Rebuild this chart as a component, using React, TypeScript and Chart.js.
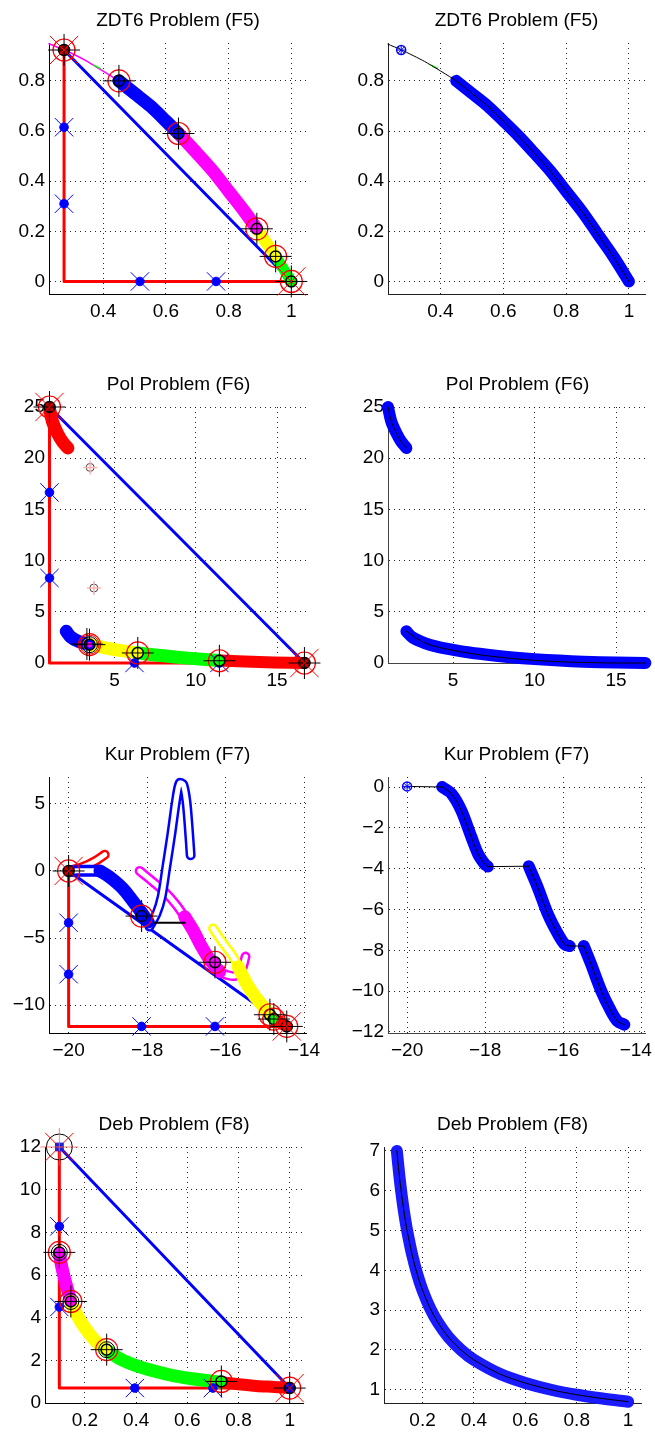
import React, { useEffect, useRef } from 'react';
import { Chart, registerables } from 'chart.js';

Chart.register(...registerables);

type XY = number[][];

const FONT = '"Liberation Sans", Arial, Helvetica, sans-serif';
const BLUE = '#0000ff';
const RED = '#ff0000';
const MAG = '#ff00ff';
const YEL = '#ffff00';
const GRN = '#00ff00';
const DARK = '#a00000';
const NONE = 'rgba(0,0,0,0)';

// ---------------- ZDT6 (F5) ----------------
const zdt6Ticks_x = [0.4, 0.6, 0.8, 1];
const zdt6Ticks_y = [0, 0.2, 0.4, 0.6, 0.8];
const zdt6L_redL = [[0.275, 0.923], [0.275, 0], [1.0, 0]];
const zdt6L_blueLine = [[0.275, 0.923], [1.0, 0]];
const zdt6L_thin = [[0.227, 0.948], [0.275, 0.924], [0.35, 0.877], [0.45, 0.8]];
const zdt6_greenDash = [[0.37, 0.863], [0.39, 0.85]];
const zdt6_frontBlue = [[0.45, 0.8], [0.5, 0.75], [0.55, 0.7], [0.6, 0.64], [0.64, 0.59]];
const zdt6_frontMag = [[0.64, 0.59], [0.7, 0.51], [0.75, 0.44], [0.8, 0.36], [0.85, 0.28], [0.89, 0.21]];
const zdt6_frontYel = [[0.89, 0.21], [0.92, 0.155], [0.95, 0.1]];
const zdt6_frontGrn = [[0.95, 0.1], [0.975, 0.05], [1.0, 0.0]];
const zdt6L_axisMarks = [[0.275, 0.615], [0.275, 0.31], [0.517, 0], [0.76, 0]];
const zdt6L_anchors = [[0.275, 0.923], [0.45, 0.8], [0.64, 0.59], [0.89, 0.21], [0.95, 0.1], [1.0, 0.0]];
const zdt6L_fills = [DARK, BLUE, BLUE, MAG, YEL, GRN];
const zdt6L_extremes = [[0.275, 0.923], [1.0, 0.0]];
const zdt6R_curve = [[0.233, 0.946], [0.275, 0.924], [0.35, 0.877], [0.45, 0.8], [0.5, 0.75], [0.55, 0.7], [0.6, 0.64], [0.65, 0.578], [0.7, 0.51], [0.75, 0.44], [0.8, 0.36], [0.85, 0.28], [0.9, 0.19], [0.95, 0.1], [1.0, 0.0]];
const zdt6R_band = [[0.45, 0.8], [0.5, 0.75], [0.55, 0.7], [0.6, 0.64], [0.65, 0.578], [0.7, 0.51], [0.75, 0.44], [0.8, 0.36], [0.85, 0.28], [0.9, 0.19], [0.95, 0.1], [1.0, 0.0]];
const zdt6R_single = [[0.275, 0.923]];

// ---------------- Pol (F6) ----------------
const polTicks_x = [5, 10, 15];
const polTicks_y = [0, 5, 10, 15, 20, 25];
const polL_redL = [[1, 25], [1, 0], [16.68, 0]];
const polL_blueLine = [[1, 25], [16.68, 0]];
const polL_upperRed = [[1.0, 24.8], [1.2, 23.5], [1.5, 22.4], [1.8, 21.6], [2.13, 21.0]];
const polL_lowerBlue = [[2.03, 3.1], [2.3, 2.55], [2.8, 2.1], [3.46, 1.8]];
const polL_lowerYel = [[3.46, 1.8], [4.5, 1.45], [5.5, 1.18], [6.43, 0.98]];
const polL_lowerGrn = [[6.43, 0.98], [8.0, 0.7], [9.7, 0.45], [11.45, 0.25]];
const polL_lowerRed = [[11.45, 0.25], [13.0, 0.15], [14.8, 0.06], [16.68, 0.0]];
const polL_axisMarks = [[1, 16.66], [1, 8.3], [6.23, 0], [11.45, 0]];
const polL_ghost = [[3.5, 19.1], [3.73, 7.32]];
const polL_anchors = [[1, 25], [3.46, 1.79], [6.43, 0.98], [11.45, 0.22], [16.68, 0]];
const polL_fills = [DARK, BLUE, YEL, GRN, DARK];
const polL_extremes = [[1, 25], [16.68, 0]];
const polL_cluster = [[3.46, 1.79]];
const polL_clusterShift = [[3.3, 1.85]];
const polR_upperBand = [[1.0, 25.0], [1.2, 23.6], [1.5, 22.5], [1.8, 21.65], [2.13, 21.0]];
const polR_lowerBand = [[2.13, 3.09], [2.5, 2.5], [3.26, 1.95], [4.0, 1.6], [5.0, 1.28], [6.0, 1.02], [7.36, 0.75], [8.5, 0.57], [10.0, 0.38], [11.5, 0.24], [13.0, 0.13], [15.0, 0.04], [16.8, 0.0]];
const polR_lowerCurve = [[2.13, 3.09], [3.26, 1.95], [5.0, 1.23], [7.36, 0.65], [10.0, 0.26], [12.5, 0.07], [15.0, 0.0], [16.8, 0.0]];

// ---------------- Kur (F7) ----------------
const kurTicks_x = [-20, -18, -16, -14];
const kurLTicks_y = [-10, -5, 0, 5];
const kurRTicks_y = [-12, -10, -8, -6, -4, -2, 0];
const kurL_redL = [[-20, 0], [-20, -11.58], [-14.44, -11.58]];
const kurL_blueLine = [[-20, 0], [-14.44, -11.58]];
const kurL_redChain = [[-19.93, 0.05], [-19.63, 0.3], [-19.29, 0.79], [-19.08, 1.21]];
const kurL_blueStart = [[-19.89, 0.0], [-19.5, 0.02], [-19.2, 0.0]];
const kurL_blueFilled = [[-19.2, 0.0], [-18.96, -0.44], [-18.62, -1.3], [-18.36, -2.25], [-18.14, -3.1], [-17.97, -3.8]];
const kurL_blueLoop = [[-17.94, -4.14], [-17.76, -3.17], [-17.63, -1.93], [-17.51, 0.3], [-17.38, 2.78], [-17.25, 5.49], [-17.17, 6.55], [-17.08, 6.45], [-17.0, 5.25], [-16.94, 3.27], [-16.89, 1.17]];
const kurL_magTop = [[-18.19, 0.0], [-17.85, -0.81], [-17.51, -1.68], [-17.25, -2.55], [-17.04, -3.41]];
const kurL_magFilled = [[-17.04, -3.41], [-16.83, -4.4], [-16.61, -5.64], [-16.4, -6.63], [-16.15, -7.5]];
const kurL_magBottom = [[-16.15, -7.5], [-15.97, -7.74], [-15.76, -7.82], [-15.59, -7.37], [-15.49, -6.38]];
const kurL_yelHollow = [[-16.32, -4.28], [-16.06, -5.39], [-15.81, -6.38], [-15.68, -7.13]];
const kurL_yelFilled = [[-15.68, -7.13], [-15.47, -8.36], [-15.25, -9.35], [-15.04, -10.1], [-14.87, -10.71]];
const kurL_grnFilled = [[-14.87, -10.71], [-14.77, -11.03]];
const kurL_redFilled = [[-14.77, -11.03], [-14.44, -11.58]];
const kurL_blackSeg = [[-17.8, -3.86], [-17.04, -3.86]];
const kurL_axisMarks = [[-20, -3.86], [-20, -7.69], [-18.14, -11.58], [-16.27, -11.58]];
const kurL_anchors = [[-20, 0], [-18.14, -3.36], [-16.27, -6.8], [-14.87, -10.71], [-14.77, -11.03], [-14.44, -11.58]];
const kurL_fills = [DARK, BLUE, MAG, YEL, GRN, RED];
const kurL_extremes = [[-20, 0], [-14.44, -11.58]];
const kurR_single = [[-20, 0.03]];
const kurR_link = [[-20, 0.03], [-19.1, 0.0]];
const kurR_seg1 = [[-19.1, 0.0], [-18.86, -0.33], [-18.61, -1.15], [-18.35, -2.46], [-18.18, -3.28], [-18.01, -3.77], [-17.93, -3.9]];
const kurR_seg2 = [[-16.88, -3.88], [-16.65, -4.92], [-16.39, -6.23], [-16.13, -7.21], [-15.96, -7.7], [-15.83, -7.79]];
const kurR_seg3 = [[-15.47, -7.79], [-15.28, -8.69], [-15.02, -10.0], [-14.77, -10.98], [-14.6, -11.48], [-14.43, -11.64]];

// ---------------- Deb (F8) ----------------
const debTicks_x = [0.2, 0.4, 0.6, 0.8, 1];
const debLTicks_y = [0, 2, 4, 6, 8, 10, 12];
const debRTicks_y = [1, 2, 3, 4, 5, 6, 7];
const debL_redL = [[0.1, 12], [0.1, 0.7], [1.0, 0.7]];
const debL_blueLine = [[0.1, 12], [1.0, 0.7]];
const debL_mag = [[0.1, 7.0], [0.11, 6.35], [0.12, 5.85], [0.13, 5.4], [0.145, 4.76]];
const debL_yel = [[0.145, 4.76], [0.17, 4.1], [0.19, 3.7], [0.22, 3.2], [0.25, 2.8], [0.285, 2.48]];
const debL_grn = [[0.285, 2.48], [0.34, 2.05], [0.4, 1.75], [0.47, 1.5], [0.55, 1.27], [0.64, 1.1], [0.733, 0.97]];
const debL_red = [[0.733, 0.97], [0.8, 0.88], [0.87, 0.8], [0.94, 0.75], [1.0, 0.7]];
const debL_axisMarks = [[0.1, 8.28], [0.1, 4.5], [0.395, 0.7], [0.7, 0.7]];
const debL_top = [[0.1, 12]];
const debL_anchors = [[0.1, 7.06], [0.145, 4.76], [0.285, 2.5], [0.733, 1.01], [1.0, 0.7]];
const debL_fills = [MAG, MAG, YEL, GRN, BLUE];
const debL_ringed = [[0.1, 7.06], [0.145, 4.76], [0.285, 2.5]];
const debL_extremes = [[1.0, 0.7]];
const debR_curve = [[0.1, 7.0], [0.11, 6.36], [0.12, 5.83], [0.13, 5.38], [0.14, 5.0], [0.16, 4.38], [0.18, 3.89], [0.2, 3.5], [0.23, 3.04], [0.26, 2.69], [0.3, 2.33], [0.35, 2.0], [0.4, 1.75], [0.5, 1.4], [0.6, 1.17], [0.7, 1.0], [0.8, 0.875], [0.9, 0.78], [1.0, 0.7]];

// ---------------- dataset helpers ----------------
const xy = (a: XY) => a.map(([x, y]) => ({ x, y }));

function line(a: XY, color: string, width: number, tension = 0.3): any {
  return {
    data: xy(a), showLine: true, borderColor: color, backgroundColor: color, borderWidth: width,
    pointRadius: 0, pointHoverRadius: 0, pointHitRadius: 0, tension,
    borderCapStyle: 'round', borderJoinStyle: 'round', fill: false, clip: false,
  };
}
function marks(a: XY, style: string, r: number, fill: string | string[], stroke: string, bw: number): any {
  return {
    data: xy(a), showLine: false, pointStyle: style, pointRadius: r, pointHoverRadius: r,
    pointBackgroundColor: fill, pointBorderColor: stroke, pointBorderWidth: bw, pointHoverBorderWidth: bw,
    backgroundColor: fill, borderColor: stroke, clip: false,
  };
}
const hollow = (a: XY, color: string, outer = 10, inner = 5) => [line(a, color, outer), line(a, '#ffffff', inner)];
const axisMarks = (a: XY) => [marks(a, 'circle', 4.3, BLUE, BLUE, 1), marks(a, 'crossRot', 13, NONE, BLUE, 1)];
const anchors = (a: XY, fills: string[], ext: XY) => [
  marks(a, 'circle', 5.5, fills, '#000000', 1.5),
  marks(a, 'circle', 11, NONE, RED, 1.2),
  marks(a, 'cross', 16, NONE, '#000000', 1),
  marks(ext, 'crossRot', 20, NONE, RED, 1),
];
const asterisk = (a: XY) => [
  marks(a, 'circle', 4.5, NONE, BLUE, 1.5),
  marks(a, 'cross', 4.5, NONE, BLUE, 1),
  marks(a, 'crossRot', 4.5, NONE, BLUE, 1),
];

interface Panel {
  title: string; col: number; L: number; T: number; R: number; B: number;
  xMin: number; xMax: number; yMin: number; yMax: number;
  xTicks: number[]; yTicks: number[]; axisColor: string; datasets: any[]; lastXPad?: boolean;
}

const PANELS: Panel[] = [
  {
    title: 'ZDT6 Problem (F5)', col: 0, L: 49, T: 43, R: 307, B: 294,
    xMin: 0.227, xMax: 1.05, yMin: -0.05, yMax: 0.951, xTicks: zdt6Ticks_x, yTicks: zdt6Ticks_y, axisColor: '#000',
    datasets: [
      line(zdt6L_redL, RED, 3, 0), line(zdt6L_blueLine, BLUE, 3, 0),
      line(zdt6L_thin, MAG, 1.5, 0.2), line(zdt6_greenDash, GRN, 1.5, 0),
      line(zdt6_frontBlue, BLUE, 13), line(zdt6_frontMag, MAG, 13), line(zdt6_frontYel, YEL, 12), line(zdt6_frontGrn, GRN, 11),
      ...axisMarks(zdt6L_axisMarks),
      ...anchors(zdt6L_anchors, zdt6L_fills, zdt6L_extremes),
    ],
  },
  {
    title: 'ZDT6 Problem (F5)', col: 1, L: 388, T: 43, R: 645, B: 294,
    xMin: 0.233, xMax: 1.051, yMin: -0.05, yMax: 0.951, xTicks: zdt6Ticks_x, yTicks: zdt6Ticks_y, axisColor: '#222',
    datasets: [
      line(zdt6R_band, BLUE, 12), line(zdt6_greenDash, GRN, 1.5, 0), line(zdt6R_curve, '#000', 1, 0.2),
      ...asterisk(zdt6R_single),
    ],
  },
  {
    title: 'Pol Problem (F6)', col: 0, L: 49, T: 407, R: 308, B: 663,
    xMin: 0.97, xMax: 16.9, yMin: 0, yMax: 25, xTicks: polTicks_x, yTicks: polTicks_y, axisColor: '#000',
    datasets: [
      line(polL_redL, RED, 3, 0), line(polL_blueLine, BLUE, 3, 0),
      line(polL_upperRed, RED, 13),
      line(polL_lowerBlue, BLUE, 13), line(polL_lowerYel, YEL, 13), line(polL_lowerGrn, GRN, 13), line(polL_lowerRed, RED, 12),
      ...axisMarks(polL_axisMarks),
      marks(polL_ghost, 'circle', 4, NONE, '#444', 1), marks(polL_ghost, 'cross', 7, NONE, '#ffb0b0', 1.5),
      marks(polL_cluster, 'circle', 8, NONE, '#000', 1), marks(polL_cluster, 'circle', 9.5, NONE, RED, 1),
      ...anchors(polL_anchors, polL_fills, polL_extremes),
      marks(polL_cluster, 'circle', 2.5, MAG, MAG, 1),
      marks(polL_clusterShift, 'cross', 16, NONE, '#000', 1),
    ],
  },
  {
    title: 'Pol Problem (F6)', col: 1, L: 388, T: 407, R: 647, B: 663,
    xMin: 1.0, xMax: 16.9, yMin: 0, yMax: 25, xTicks: polTicks_x, yTicks: polTicks_y, axisColor: '#444',
    datasets: [
      line(polR_upperBand, BLUE, 12), line(polR_lowerBand, BLUE, 12),
      line(polR_upperBand, '#000', 1), line(polR_lowerCurve, '#000', 1),
    ],
  },
  {
    title: 'Kur Problem (F7)', col: 0, L: 49, T: 777, R: 306, B: 1033,
    xMin: -20.5, xMax: -13.95, yMin: -12.07, yMax: 7, xTicks: kurTicks_x, yTicks: kurLTicks_y, axisColor: '#000',
    datasets: [
      line(kurL_redL, RED, 3, 0), line(kurL_blueLine, BLUE, 3, 0),
      ...hollow(kurL_magTop, MAG), ...hollow(kurL_magBottom, MAG), ...hollow(kurL_yelHollow, YEL),
      ...hollow(kurL_redChain, RED), ...hollow(kurL_blueLoop, BLUE), ...hollow(kurL_blueStart, BLUE, 12, 5),
      line(kurL_blueFilled, BLUE, 13), line(kurL_magFilled, MAG, 13), line(kurL_yelFilled, YEL, 13),
      line(kurL_grnFilled, GRN, 12), line(kurL_redFilled, RED, 12),
      line(kurL_blackSeg, '#000', 2, 0),
      ...axisMarks(kurL_axisMarks),
      ...anchors(kurL_anchors, kurL_fills, kurL_extremes),
    ],
  },
  {
    title: 'Kur Problem (F7)', col: 1, L: 388, T: 777, R: 645, B: 1033,
    xMin: -20.49, xMax: -13.9, yMin: -12.05, yMax: 0.49, xTicks: kurTicks_x, yTicks: kurRTicks_y, axisColor: '#444',
    lastXPad: true,
    datasets: [
      line(kurR_seg1, BLUE, 12), line(kurR_seg2, BLUE, 12), line(kurR_seg3, BLUE, 12),
      line(kurR_link, '#000', 1, 0), line(kurR_seg1, '#000', 1), line([kurR_seg1[kurR_seg1.length - 1], kurR_seg2[0]], '#000', 1, 0),
      line(kurR_seg2, '#000', 1), line([kurR_seg2[kurR_seg2.length - 1], kurR_seg3[0]], '#000', 1, 0), line(kurR_seg3, '#000', 1),
      ...asterisk(kurR_single),
    ],
  },
  {
    title: 'Deb Problem (F8)', col: 0, L: 45, T: 1147, R: 303, B: 1403,
    xMin: 0.044, xMax: 1.052, yMin: 0, yMax: 12, xTicks: debTicks_x, yTicks: debLTicks_y, axisColor: '#000',
    datasets: [
      line(debL_redL, RED, 3, 0), line(debL_blueLine, BLUE, 3, 0),
      line(debL_mag, MAG, 13), line(debL_yel, YEL, 13), line(debL_grn, GRN, 13), line(debL_red, RED, 12),
      ...axisMarks(debL_axisMarks),
      marks(debL_top, 'circle', 13, NONE, '#000', 1),
      marks(debL_top, 'cross', 19, NONE, 'rgba(255,80,80,0.75)', 1),
      marks(debL_top, 'crossRot', 20, NONE, RED, 1),
      marks(debL_top, 'rect', 5.5, '#2020d0', '#2020d0', 1),
      marks(debL_top, 'cross', 4, NONE, '#ff5050', 1),
      marks(debL_ringed, 'circle', 8, NONE, '#000', 1),
      ...anchors(debL_anchors, debL_fills, debL_extremes),
    ],
  },
  {
    title: 'Deb Problem (F8)', col: 1, L: 384, T: 1147, R: 641, B: 1403,
    xMin: 0.05, xMax: 1.05, yMin: 0.667, yMax: 7.1, xTicks: debTicks_x, yTicks: debRTicks_y, axisColor: '#222',
    datasets: [line(debR_curve, '#1a1aff', 12), line(debR_curve, '#000', 1)],
  },
];

const TITLE_PAD_BOTTOM = 10.6;
const TITLE_SIZE = 19;
const TITLE_BOX = TITLE_SIZE * 1.2 + TITLE_PAD_BOTTOM;
const TOP_SPACE = 50;
const XAXIS_H = 40;

function geom(p: Panel) {
  const cl = p.col === 0 ? 0 : 330;
  const cw = p.col === 0 ? 330 : 325;
  const ct = p.T - TOP_SPACE;
  const ch = p.B - ct + XAXIS_H;
  return { cl, cw, ct, ch, yw: p.L - cl, rp: cl + cw - p.R };
}

const fmt = (v: number) => {
  const s = String(Math.round(v * 1000) / 1000);
  return s.startsWith('-') ? '\u2212' + s.slice(1) : s;
};

function buildConfig(p: Panel): any {
  const g = geom(p);
  const font = { family: FONT, size: 19, weight: 'normal' as const };
  const axis = (ticks: number[], min: number, max: number, isX: boolean) => ({
    type: 'linear',
    min,
    max,
    afterBuildTicks: (s: any) => { s.ticks = ticks.map((v) => ({ value: v })); },
    afterFit: (s: any) => {
      if (isX) s.height = XAXIS_H; else s.width = g.yw;
      s.paddingLeft = 0; s.paddingRight = 0; s.paddingTop = 0; s.paddingBottom = 0;
    },
    ticks: {
      autoSkip: false, maxRotation: 0, minRotation: 0, padding: isX ? 6 : 4, color: '#000', font,
      callback: (v: any, i: number) => {
        const t = fmt(Number(v));
        return isX && p.lastXPad && i === ticks.length - 1 ? t + '\u00a0\u00a0' : t;
      },
    },
    grid: { drawTicks: false, color: 'rgba(0,0,0,0.85)', lineWidth: 1 },
    border: { display: true, color: p.axisColor, width: 1, dash: [1, 4] },
  });
  const datasets = p.datasets.map((d, i) => ({ ...d, order: -i }));
  return {
    type: 'scatter',
    data: { datasets },
    options: {
      animation: false,
      responsive: false,
      maintainAspectRatio: false,
      devicePixelRatio: 1,
      events: [],
      layout: { padding: { left: 0, right: g.rp, top: TOP_SPACE - TITLE_BOX, bottom: 0 } },
      plugins: {
        legend: { display: false },
        tooltip: { enabled: false },
        title: { display: true, text: p.title, fullSize: false, color: '#000', font, padding: { top: 0, bottom: TITLE_PAD_BOTTOM } },
      },
      scales: { x: axis(p.xTicks, p.xMin, p.xMax, true), y: axis(p.yTicks, p.yMin, p.yMax, false) },
    },
  };
}

export default function App() {
  const refs = useRef<(HTMLCanvasElement | null)[]>([]);
  useEffect(() => {
    const charts = PANELS.map((p, i) => new Chart(refs.current[i] as HTMLCanvasElement, buildConfig(p)));
    return () => charts.forEach((c) => c.destroy());
  }, []);
  return (
    <div style={{ position: 'absolute', left: 0, top: 0, width: 655, height: 1432, overflow: 'hidden', background: '#ffffff' }}>
      {PANELS.map((p, i) => {
        const g = geom(p);
        return (
          <canvas
            key={i}
            ref={(el) => { refs.current[i] = el; }}
            width={g.cw}
            height={g.ch}
            style={{ position: 'absolute', left: g.cl, top: g.ct, width: g.cw, height: g.ch }}
          />
        );
      })}
    </div>
  );
}
